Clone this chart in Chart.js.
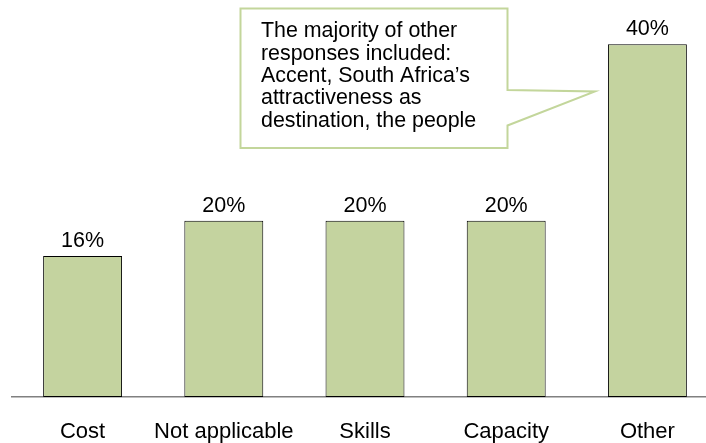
<!DOCTYPE html>
<html>
<head>
<meta charset="utf-8">
<script src="https://cdn.jsdelivr.net/npm/chart.js@4/dist/chart.umd.min.js"></script>
<style>
  html, body { margin: 0; padding: 0; background: #fff; overflow: hidden; }
  #wrap { width: 720px; height: 443px; }
</style>
</head>
<body>
<div id="wrap"><canvas id="c" width="720" height="443"></canvas></div>
<script>
// Reasons given, share of respondents (%)
const categories = ['Cost', 'Not applicable', 'Skills', 'Capacity', 'Other'];
const shares = [16, 20, 20, 20, 40];
const calloutLines = [
  'The majority of other',
  'responses included:',
  'Accent, South Africa\u2019s',
  'attractiveness as',
  'destination, the people'
];

const FONT = '"Liberation Sans", Arial, Helvetica, sans-serif';

// Percentage labels above each bar
const valueLabels = {
  id: 'valueLabels',
  afterDatasetsDraw(chart) {
    const ctx = chart.ctx;
    const meta = chart.getDatasetMeta(0);
    ctx.save();
    ctx.font = '21.5px ' + FONT;
    ctx.fillStyle = '#000';
    ctx.textAlign = 'center';
    ctx.textBaseline = 'alphabetic';
    meta.data.forEach((bar, i) => {
      ctx.fillText(shares[i] + '%', bar.x, bar.y - 9);
    });
    ctx.restore();
  }
};

// Speech-bubble note pointing at the "Other" bar
const callout = {
  id: 'callout',
  afterDraw(chart) {
    const ctx = chart.ctx;
    const bar = chart.getDatasetMeta(0).data[categories.length - 1];
    const L = 240.5, T = 8.5, R = 507.5, B = 148;
    const tipX = bar.x - bar.width / 2 - 13;
    const tipY = 91.5;
    ctx.save();
    ctx.beginPath();
    ctx.moveTo(L, T);
    ctx.lineTo(R, T);
    ctx.lineTo(R, 90);
    ctx.lineTo(tipX, tipY);
    ctx.lineTo(R, 125.5);
    ctx.lineTo(R, B);
    ctx.lineTo(L, B);
    ctx.closePath();
    ctx.fillStyle = '#fff';
    ctx.fill();
    ctx.strokeStyle = '#C3D69B';
    ctx.lineWidth = 2;
    ctx.stroke();
    ctx.font = '21.4px ' + FONT;
    ctx.fillStyle = '#000';
    ctx.textAlign = 'left';
    ctx.textBaseline = 'alphabetic';
    calloutLines.forEach((t, i) => ctx.fillText(t, 261, 37.3 + i * 22.35));
    ctx.restore();
  }
};

new Chart(document.getElementById('c'), {
  type: 'bar',
  data: {
    labels: categories,
    datasets: [{
      data: shares,
      backgroundColor: '#C4D39F',
      borderColor: '#000',
      borderWidth: 1,
      borderSkipped: false,
      categoryPercentage: 1,
      barPercentage: 0.559
    }]
  },
  options: {
    responsive: false,
    animation: false,
    devicePixelRatio: 1,
    layout: { padding: { left: 12, right: 2, top: 9, bottom: 0 } },
    plugins: { legend: { display: false }, tooltip: { enabled: false } },
    scales: {
      x: {
        grid: { display: false, drawTicks: false },
        border: { display: true, color: '#808080', width: 1.5 },
        ticks: { color: '#000', font: { family: FONT, size: 22 }, padding: 21.5, maxRotation: 0, autoSkip: false },
        afterFit(scale) { scale.height = 46; }
      },
      y: {
        display: false,
        min: 0,
        max: 44
      }
    }
  },
  plugins: [valueLabels, callout]
});
</script>
</body>
</html>
